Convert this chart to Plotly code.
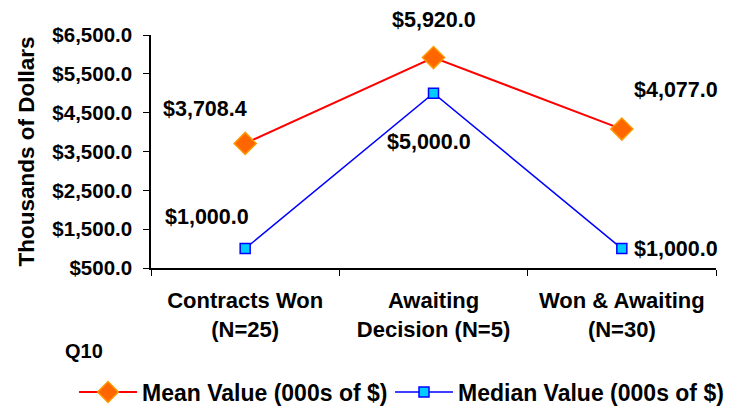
import plotly.graph_objects as go

categories = ["Contracts Won<br>(N=25)", "Awaiting<br>Decision (N=5)", "Won & Awaiting<br>(N=30)"]
mean_values = [3708.4, 5920.0, 4077.0]
median_values = [1000.0, 5000.0, 1000.0]
mean_name = "Mean Value (000s of $)"
median_name = "Median Value (000s of $)"

FONT = "Liberation Sans, Arial, sans-serif"
W, H = 738, 406
L, R, T, B = 151, 22, 35, 138

fig = go.Figure()
fig.add_trace(go.Scatter(
    x=categories, y=mean_values, name=mean_name, mode="lines+markers", legend="legend",
    line=dict(color="#FF0000", width=2),
    marker=dict(symbol="diamond", size=17, color="#FF6600", line=dict(color="#FF9900", width=1.5)),
))
fig.add_trace(go.Scatter(
    x=categories, y=median_values, name=median_name, mode="lines+markers", legend="legend2",
    line=dict(color="#0000FF", width=1.5),
    marker=dict(symbol="square", size=10, color="#00CCFF", line=dict(color="#0000FF", width=1.5)),
))

def fmt(v):
    return "${:,.1f}".format(v)

LBL = dict(family=FONT, size=21.5, color="black", weight="bold")
mean_offsets = [(-40, 34), (0, 38), (54, 39)]
median_offsets = [(-38, 32), (-5, -49), (54, 0)]
for c, v, (dx, dy) in zip(categories, mean_values, mean_offsets):
    fig.add_annotation(x=c, y=v, text=fmt(v), showarrow=False, xshift=dx, yshift=dy, font=LBL,
                       xanchor="center", yanchor="middle")
for c, v, (dx, dy) in zip(categories, median_values, median_offsets):
    fig.add_annotation(x=c, y=v, text=fmt(v), showarrow=False, xshift=dx, yshift=dy, font=LBL,
                       xanchor="center", yanchor="middle")

fig.add_annotation(xref="paper", yref="paper", x=(84 - L) / (W - L - R), y=(268 - 351) / (H - T - B),
                   text="Q10", showarrow=False, xanchor="center", yanchor="middle",
                   font=dict(family=FONT, size=20, color="black", weight="bold"))

PW, PH = W - L - R, H - T - B
LEG = dict(orientation="h", xanchor="left", y=(268 - 392) / PH, yanchor="middle",
           font=dict(family=FONT, size=23, color="black", weight="bold"),
           itemwidth=58, tracegroupgap=0, bgcolor="rgba(0,0,0,0)")

fig.update_layout(
    width=W, height=H,
    margin=dict(l=L, r=R, t=T, b=B, autoexpand=False),
    paper_bgcolor="white", plot_bgcolor="white",
    font=dict(family=FONT, color="black", size=20, weight="bold"),
    showlegend=True,
    legend=dict(LEG, x=(74 - L) / PW),
    legend2=dict(LEG, x=(390 - L) / PW),
    xaxis=dict(
        type="category", range=[-0.5, 2.5], tickson="boundaries",
        showline=True, linecolor="black", linewidth=1.5,
        ticks="outside", ticklen=6, tickcolor="black", tickwidth=1,
        showgrid=False, zeroline=False, ticklabelstandoff=12,
        tickfont=dict(family=FONT, size=22, color="black", weight="bold"),
        automargin=False,
    ),
    yaxis=dict(
        range=[500, 6500], dtick=1000, tick0=500,
        tickprefix="$", tickformat=",.1f",
        showline=True, linecolor="black", linewidth=1.5,
        ticks="outside", ticklen=6, tickcolor="black", tickwidth=1,
        showgrid=False, zeroline=False, ticklabelstandoff=7,
        tickfont=dict(family=FONT, size=20.5, color="black", weight="bold"),
        title=dict(text="Thousands of Dollars", standoff=11,
                   font=dict(family=FONT, size=22.5, color="black", weight="bold")),
        automargin=False,
    ),
)

fig.write_html("out.html", config={"displayModeBar": False},
               post_script="document.body.style.margin='0';document.body.style.overflow='hidden';")
